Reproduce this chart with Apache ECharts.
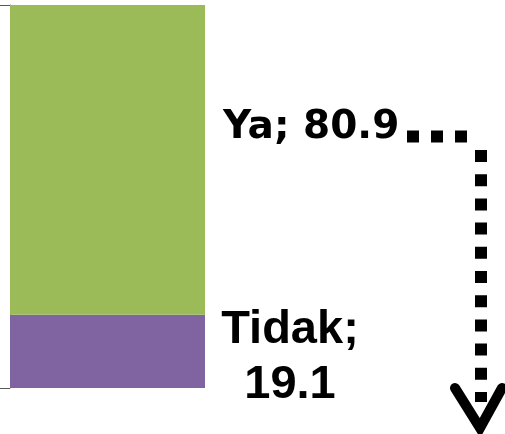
<!DOCTYPE html>
<html>
<head>
<meta charset="utf-8">
<script src="https://cdn.jsdelivr.net/npm/echarts@6/dist/echarts.min.js"></script>
<style>
  html, body { margin: 0; padding: 0; background: #fff; }
  #chart { width: 505px; height: 434px; }
</style>
</head>
<body>
<div id="chart"></div>
<script>
// data
const categories = ['Total'];
const tidakValues = [19.1];
const yaValues = [80.9];
const seriesNames = ['Tidak', 'Ya'];

const chart = echarts.init(document.getElementById('chart'));

const option = {
  animation: false,
  grid: { left: 10, right: 300, top: 5, bottom: 46 },
  xAxis: {
    type: 'category',
    data: categories,
    show: false
  },
  yAxis: {
    type: 'value',
    min: 0,
    max: 100,
    interval: 100,
    axisLine: { show: true, lineStyle: { color: '#868686', width: 1 } },
    axisTick: { show: true, length: 10, lineStyle: { color: '#595959', width: 1 } },
    axisLabel: { show: false },
    splitLine: { show: false }
  },
  series: [
    {
      name: seriesNames[0],
      type: 'bar',
      stack: 'total',
      barWidth: '100%',
      data: tidakValues,
      itemStyle: { color: '#8064A2' },
      label: {
        show: true,
        position: ['143.6%', '59%'],
        align: 'center',
        verticalAlign: 'middle',
        lineHeight: 55,
        fontFamily: 'Liberation Sans, Arial, sans-serif',
        fontWeight: 'bold',
        fontSize: 47,
        color: '#000',
        formatter: p => p.seriesName + ';\n' + p.value
      }
    },
    {
      name: seriesNames[1],
      type: 'bar',
      stack: 'total',
      barWidth: '100%',
      data: yaValues,
      itemStyle: { color: '#9BBB59' },
      label: {
        show: true,
        position: ['109.2%', '39.6%'],
        align: 'left',
        verticalAlign: 'middle',
        fontFamily: 'DejaVu Sans, sans-serif',
        fontWeight: 'bold',
        fontSize: 39,
        color: '#000',
        formatter: p => p.seriesName + '; ' + p.value
      }
    }
  ],
  graphic: [
    {
      type: 'line',
      shape: { x1: 407, y1: 136.5, x2: 468, y2: 136.5 },
      style: { stroke: '#000', lineWidth: 12, lineDash: [12, 12], lineCap: 'butt' }
    },
    {
      type: 'line',
      shape: { x1: 481, y1: 150, x2: 481, y2: 402 },
      style: { stroke: '#000', lineWidth: 12, lineDash: [12, 12.2], lineCap: 'butt' }
    },
    {
      type: 'polyline',
      shape: { points: [[455, 388], [480, 428], [502, 388]] },
      style: { stroke: '#000', fill: null, lineWidth: 10, lineCap: 'round', lineJoin: 'miter' }
    }
  ]
};

chart.setOption(option);
</script>
</body>
</html>
